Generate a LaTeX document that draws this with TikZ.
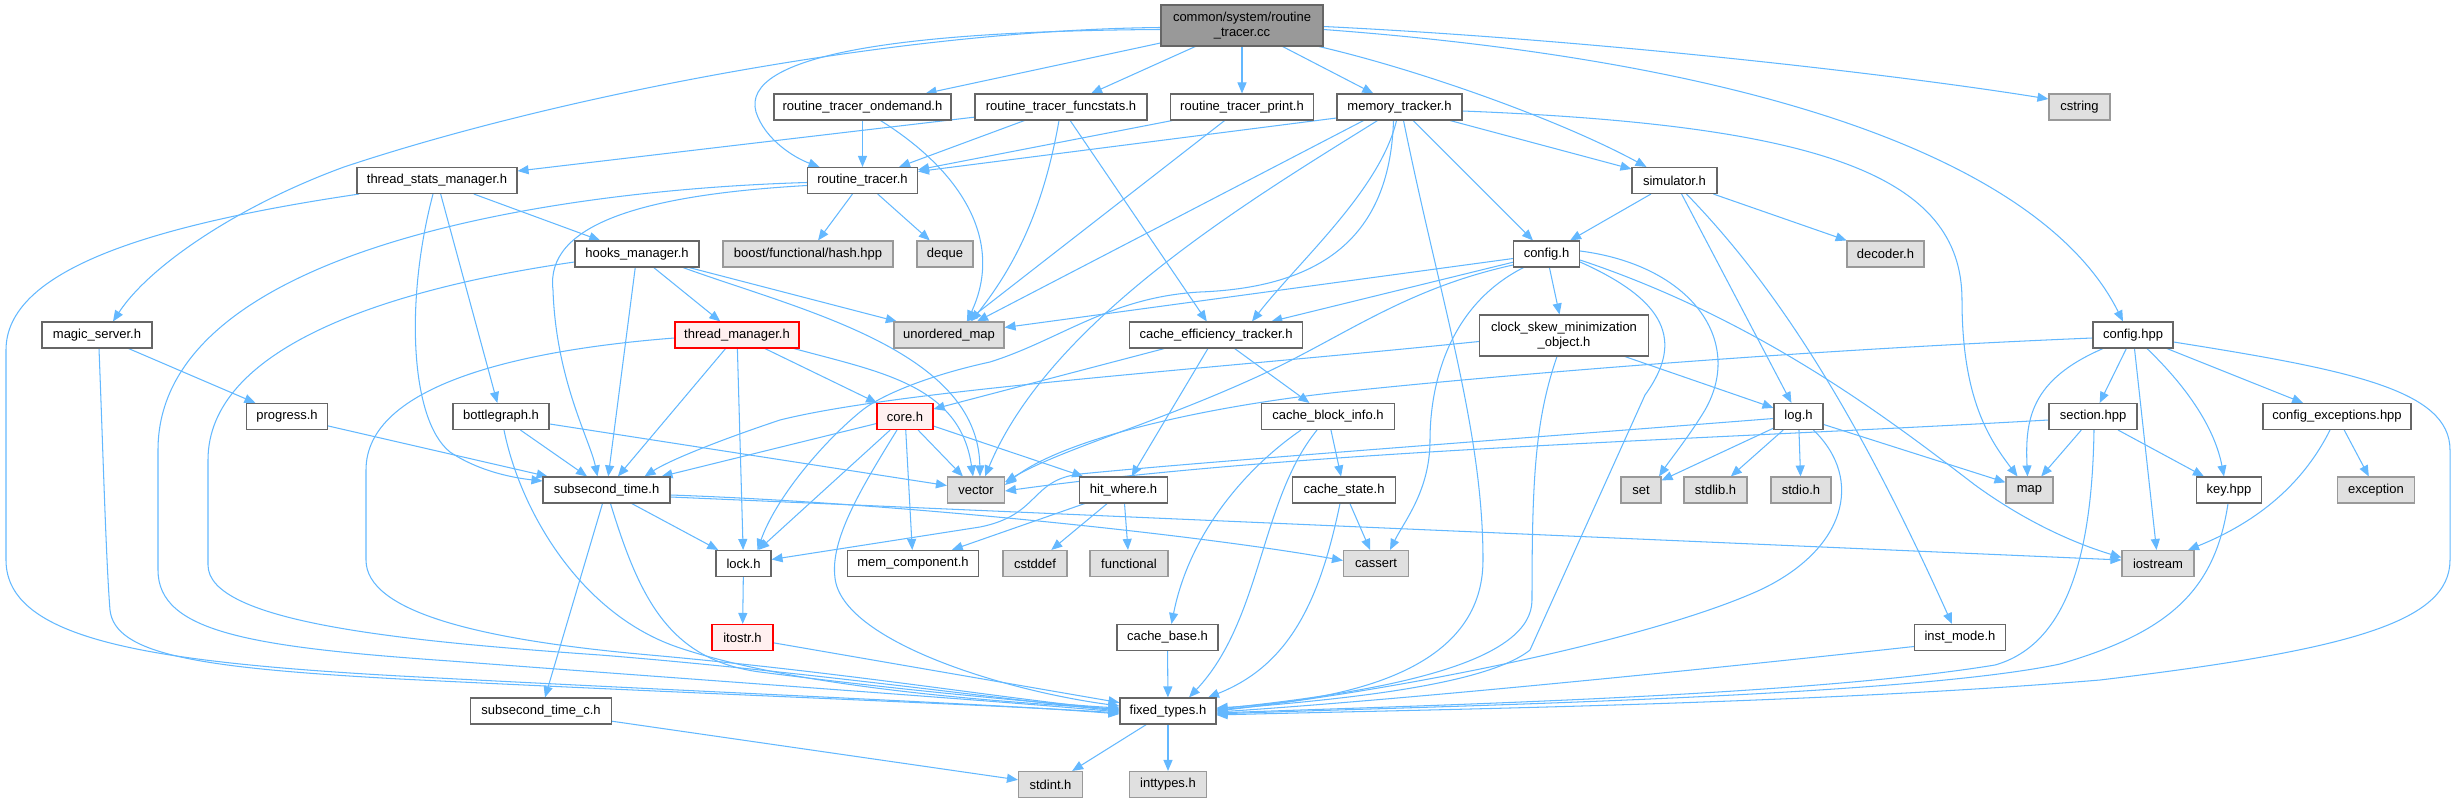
\documentclass[tikz,border=0pt]{standalone}
\usepackage{fontspec}
\setmainfont{Liberation Sans}
\usetikzlibrary{arrows.meta}
\definecolor{edgeblue}{HTML}{63B8FF}
\definecolor{boxgray}{HTML}{666666}
\definecolor{sysgray}{HTML}{999999}
\definecolor{sysfill}{HTML}{E0E0E0}
\definecolor{hotfill}{HTML}{FFF0F0}
\definecolor{rootfill}{HTML}{999999}
\newcommand{\nf}{\fontsize{13}{15}\selectfont}
\pgfdeclarelayer{bg}
\pgfsetlayers{bg,main}
\tikzset{
  box/.style={draw=boxgray, fill=white, line width=1.1pt, minimum height=26pt, inner sep=0pt, font=\nf, text=black},
  sys/.style={box, draw=sysgray, fill=sysfill},
  hot/.style={box, draw=red, fill=hotfill},
  rootbox/.style={box, fill=rootfill, draw=boxgray},
  dep/.style={draw=edgeblue, line width=1.05pt, -{Triangle[length=11pt,width=9pt]}}
}
\begin{document}
\begin{tikzpicture}[x=1pt,y=-1pt]
\useasboundingbox (0,0) rectangle (2458,803);
% row 0
\node[rootbox, minimum width=162pt, minimum height=41pt, align=center] (C) at (1242,25.5) {common/system/routine\\\_tracer.cc};
% row 1
\node[box, minimum width=177pt] (ond) at (862.5,107) {routine\_tracer\_ondemand.h};
\node[box, minimum width=172pt] (fst) at (1061,107) {routine\_tracer\_funcstats.h};
\node[box, minimum width=143pt] (prt) at (1242,107) {routine\_tracer\_print.h};
\node[box, minimum width=125pt] (mem) at (1399.5,107) {memory\_tracker.h};
\node[sys, minimum width=61pt] (cstr) at (2079.5,107) {cstring};
% row 2
\node[box, minimum width=160pt] (tsm) at (437,180.5) {thread\_stats\_manager.h};
\node[box, minimum width=110pt] (rt) at (862.5,180.5) {routine\_tracer.h};
\node[box, minimum width=85pt] (sim) at (1674.5,180.5) {simulator.h};
% row 3
\node[box, minimum width=124pt] (hook) at (637,254) {hooks\_manager.h};
\node[sys, minimum width=170pt] (boost) at (808,254) {boost/functional/hash.hpp};
\node[sys, minimum width=56pt] (deque) at (945,254) {deque};
\node[box, minimum width=66pt] (cfgh) at (1546.5,254) {config.h};
\node[sys, minimum width=77pt] (dec) at (1885.5,254) {decoder.h};
% row 4
\node[box, minimum width=110pt] (magic) at (97,335) {magic\_server.h};
\node[hot, minimum width=124pt] (tm) at (737,335) {thread\_manager.h};
\node[sys, minimum width=110pt] (umap) at (949,335) {unordered\_map};
\node[box, minimum width=173pt] (cet) at (1216,335) {cache\_efficiency\_tracker.h};
\node[box, minimum width=169pt, minimum height=41pt, align=center] (clk) at (1564,335.5) {clock\_skew\_minimization\\\_object.h};
\node[box, minimum width=80pt] (cfgp) at (2133,335) {config.hpp};
% row 5
\node[box, minimum width=81pt] (prog) at (287,416.5) {progress.h};
\node[box, minimum width=96pt] (bott) at (501,416.5) {bottlegraph.h};
\node[hot, minimum width=56pt] (core) at (905,416.5) {core.h};
\node[box, minimum width=133pt] (cbi) at (1328,416.5) {cache\_block\_info.h};
\node[box, minimum width=49pt] (log) at (1798.5,416.5) {log.h};
\node[box, minimum width=88pt] (sect) at (2093,416.5) {section.hpp};
\node[box, minimum width=148pt] (cexc) at (2337,416.5) {config\_exceptions.hpp};
% row 6
\node[box, minimum width=127pt] (sst) at (606.5,490) {subsecond\_time.h};
\node[sys, minimum width=57pt] (vec) at (976,490) {vector};
\node[box, minimum width=88pt] (hit) at (1123.5,490) {hit\_where.h};
\node[box, minimum width=103pt] (cst) at (1344,490) {cache\_state.h};
\node[sys, minimum width=40pt] (set) at (1641,490) {set};
\node[sys, minimum width=63pt] (stdl) at (1715.5,490) {stdlib.h};
\node[sys, minimum width=60pt] (stdo) at (1801,490) {stdio.h};
\node[sys, minimum width=47pt] (map) at (2029.5,490) {map};
\node[box, minimum width=65pt] (key) at (2229,490) {key.hpp};
\node[sys, minimum width=77pt] (exc) at (2376,490) {exception};
% row 7
\node[box, minimum width=55pt] (lock) at (743.5,563.5) {lock.h};
\node[box, minimum width=131pt] (memc) at (913,563.5) {mem\_component.h};
\node[sys, minimum width=64pt] (cdef) at (1035,563.5) {cstddef};
\node[sys, minimum width=78pt] (func) at (1129,563.5) {functional};
\node[sys, minimum width=65pt] (cass) at (1376,563.5) {cassert};
\node[sys, minimum width=72pt] (iost) at (2158,563.5) {iostream};
% row 8
\node[hot, minimum width=61pt] (itos) at (742.5,637.5) {itostr.h};
\node[box, minimum width=101pt] (cbase) at (1167.5,637.5) {cache\_base.h};
\node[box, minimum width=91pt] (inst) at (1960,637.5) {inst\_mode.h};
% row 9
\node[box, minimum width=141pt] (sstc) at (541,711) {subsecond\_time\_c.h};
\node[box, minimum width=96pt] (fix) at (1168,711) {fixed\_types.h};
% row 10
\node[sys, minimum width=64pt] (sint) at (1050.5,784.5) {stdint.h};
\node[sys, minimum width=77pt] (itypes) at (1168,784.5) {inttypes.h};

\begin{pgfonlayer}{bg}
% root
\draw[dep] ([yshift=-2pt]C.west) .. controls (900,30) and (560,95) .. (344,167) .. controls (240,205) and (150,265) .. ([xshift=16pt]magic.north);
\draw[dep] ([yshift=-4pt]C.west) .. controls (900,31) and (740,55) .. (756,112) .. controls (765,140) and (795,158) .. ([xshift=-43pt]rt.north);
\draw[dep] (C) -- (ond);
\draw[dep] (C) -- (fst);
\draw[dep] (C) -- (prt);
\draw[dep] (C) -- (mem);
\draw[dep] ([xshift=77pt]C.south) .. controls (1420,70) and (1560,120) .. ([xshift=-28pt]sim.north);
\draw[dep] ([yshift=-1pt]C.east) .. controls (1600,40) and (1900,75) .. ([yshift=8pt]cstr.west);
\draw[dep] ([yshift=-4pt]C.east) .. controls (1800,65) and (2050,175) .. ([xshift=-10pt]cfgp.north);
% row 1
\draw[dep] (ond) -- (rt);
\draw[dep] ([xshift=18pt]ond.south) .. controls (960,170) and (1005,240) .. ([xshift=18pt]umap.north);
\draw[dep] (fst) -- (rt);
\draw[dep] ([xshift=-2pt]fst.south) .. controls (1045,200) and (1020,260) .. ([xshift=22pt]umap.north);
\draw[dep] (fst) -- (cet);
\draw[dep] (fst) -- (tsm);
\draw[dep] (prt) -- (rt);
\draw[dep] (prt) -- (umap);
\draw[dep] ([yshift=-11pt]mem.west) -- ([yshift=9pt]rt.east);
\draw[dep] ([xshift=-36pt]mem.south) -- ([xshift=28pt]umap.north);
\draw[dep] (mem) -- (sim);
\draw[dep] (mem) -- (cfgh);
\draw[dep] ([xshift=-22pt]mem.south) .. controls (1250,200) and (1050,320) .. ([xshift=9pt]vec.north);
\draw[dep] ([xshift=-6pt]mem.south) .. controls (1390,230) and (1330,287) .. (1200,292) .. controls (1110,297) and (1060,340) .. (990,362) .. controls (930,375) and (880,395) .. (860,412) .. controls (820,445) and (775,500) .. ([xshift=14pt]lock.north);
\draw[dep] ([xshift=-3pt]mem.south) .. controls (1380,190) and (1300,260) .. ([xshift=36pt]cet.north);
\draw[dep] ([xshift=4pt]mem.south) .. controls (1440,300) and (1483,430) .. (1483,560) .. controls (1483,670) and (1350,700) .. ([yshift=3pt]fix.east);
\draw[dep] ([yshift=-4pt]mem.east) .. controls (1820,125) and (1962,175) .. (1962,300) .. controls (1962,400) and (1990,440) .. ([xshift=-12pt]map.north);
% thread_stats_manager
\draw[dep] (tsm) -- (hook);
\draw[dep] (tsm) -- (bott);
\draw[dep] ([xshift=-4pt]tsm.south) .. controls (405,300) and (410,420) .. (450,452) .. controls (480,472) and (515,478) .. ([yshift=9pt]sst.west);
\draw[dep] ([xshift=-78pt]tsm.south) .. controls (150,225) and (6,270) .. (6,350) -- (6,560) .. controls (6,640) and (150,662) .. (400,676) .. controls (700,692) and (1000,704) .. ([yshift=-3pt]fix.west);
% magic_server
\draw[dep] (magic) -- (prog);
\draw[dep] ([xshift=2pt]magic.south) .. controls (103,450) and (106,560) .. (110,610) .. controls (115,655) and (200,668) .. (400,679) .. controls (700,694) and (1000,705) .. ([yshift=-2pt]fix.west);
% routine_tracer.h
\draw[dep] (rt) -- (boost);
\draw[dep] (rt) -- (deque);
\draw[dep] ([yshift=-5pt]rt.west) .. controls (640,195) and (545,225) .. (553,290) .. controls (556,380) and (590,440) .. ([xshift=-9pt]sst.north);
\draw[dep] ([yshift=-2pt]rt.west) .. controls (550,190) and (158,250) .. (158,450) -- (158,570) .. controls (158,632) and (250,647) .. (450,661) .. controls (700,680) and (1000,701) .. ([yshift=-1pt]fix.west);
% hooks_manager
\draw[dep] (hook) -- (tm);
\draw[dep] (hook) -- (umap);
\draw[dep] (hook) -- (sst);
\draw[dep] ([xshift=46pt]hook.south) .. controls (800,310) and (978,350) .. ([xshift=4pt]vec.north);
\draw[dep] ([yshift=-8pt]hook.west) .. controls (380,290) and (208,350) .. (208,460) -- (208,565) .. controls (208,622) and (400,641) .. (600,655) .. controls (800,671) and (1000,699) .. (fix.west);
% thread_manager
\draw[dep] (tm) -- (core);
\draw[dep] (tm) -- (sst);
\draw[dep] (tm) -- (lock);
\draw[dep] ([xshift=57pt]tm.south) .. controls (880,372) and (960,385) .. ([xshift=-3pt]vec.north);
\draw[dep] ([yshift=-3pt]tm.west) .. controls (520,350) and (366,385) .. (366,470) -- (366,560) .. controls (366,612) and (480,640) .. (650,655) .. controls (850,673) and (1000,698) .. ([yshift=1pt]fix.west);
% bottlegraph, progress
\draw[dep] (prog) -- (sst);
\draw[dep] (bott) -- (sst);
\draw[dep] (bott) -- (vec);
\draw[dep] ([xshift=3pt]bott.south) .. controls (520,510) and (580,615) .. (680,648) .. controls (800,688) and (1000,702) .. ([yshift=2pt]fix.west);
% subsecond_time
\draw[dep] (sst) -- (lock);
\draw[dep] (sst) -- (sstc);
\draw[dep] ([yshift=-5pt]sst.east) .. controls (900,503) and (1200,535) .. ([yshift=3pt]cass.west);
\draw[dep] ([yshift=-7pt]sst.east) -- ([yshift=3.5pt]iost.west);
\draw[dep] ([xshift=4pt]sst.south) .. controls (640,600) and (670,660) .. (760,672) .. controls (900,690) and (1050,704) .. ([yshift=3pt]fix.west);
% core
\draw[dep] (core) -- (sst);
\draw[dep] (core) -- (lock);
\draw[dep] (core) -- (vec);
\draw[dep] (core) -- (memc);
\draw[dep] (core) -- (hit);
\draw[dep] ([xshift=-8pt]core.south) .. controls (860,490) and (830,540) .. (835,578) .. controls (842,640) and (1000,690) .. ([yshift=5pt]fix.west);
% cache efficiency etc.
\draw[dep] (cet) -- (core);
\draw[dep] (cet) -- (hit);
\draw[dep] (cet) -- (cbi);
\draw[dep] ([xshift=-27pt]cbi.south) .. controls (1250,465) and (1190,530) .. ([xshift=4pt]cbase.north);
\draw[dep] (cbi) -- (cst);
\draw[dep] ([xshift=-11pt]cbi.south) .. controls (1260,500) and (1262,620) .. ([xshift=21pt]fix.north);
\draw[dep] (cst) -- (cass);
\draw[dep] ([xshift=-4pt]cst.south) .. controls (1320,600) and (1290,665) .. ([xshift=40pt]fix.north);
% clock skew
\draw[dep] (clk) -- (log);
\draw[dep] ([yshift=-6pt]clk.west) .. controls (1200,370) and (900,390) .. (780,420) .. controls (720,440) and (670,460) .. ([xshift=38pt]sst.north);
\draw[dep] ([xshift=-7pt]clk.south) .. controls (1535,420) and (1532,480) .. (1532,600) .. controls (1532,660) and (1400,690) .. ([yshift=2pt]fix.east);
% config.h
\draw[dep] (cfgh) -- (clk);
\draw[dep] (cfgh) -- (umap);
\draw[dep] (cfgh) -- (cet);
\draw[dep] ([yshift=-11pt]cfgh.west) .. controls (1400,290) and (1340,340) .. (1250,380) .. controls (1150,425) and (1060,450) .. ([yshift=8pt]vec.east);
\draw[dep] ([xshift=-23pt]cfgh.south) .. controls (1440,310) and (1430,400) .. (1430,440) .. controls (1430,490) and (1405,520) .. ([xshift=14pt]cass.north);
\draw[dep] ([yshift=3pt]cfgh.east) .. controls (1690,265) and (1745,340) .. (1705,410) .. controls (1690,435) and (1670,460) .. ([xshift=18pt]set.north);
\draw[dep] ([yshift=-8pt]cfgh.east) .. controls (1665,300) and (1685,340) .. (1645,395) -- (1530,650) .. controls (1480,690) and (1300,702) .. ([yshift=1pt]fix.east);
\draw[dep] ([yshift=-6pt]cfgh.east) .. controls (1760,320) and (1890,420) .. (1975,485) .. controls (2030,525) and (2080,545) .. ([yshift=6pt]iost.west);
% simulator
\draw[dep] (sim) -- (cfgh);
\draw[dep] (sim) -- (dec);
\draw[dep] (sim) -- (log);
\draw[dep] ([xshift=12pt]sim.south) .. controls (1780,290) and (1860,420) .. ([xshift=-8pt]inst.north);
% log
\draw[dep] (log) -- (set);
\draw[dep] (log) -- (stdl);
\draw[dep] (log) -- (stdo);
\draw[dep] (log) -- (map);
\draw[dep] ([yshift=-2pt]log.west) .. controls (1500,440) and (1200,462) .. (1080,474) .. controls (1030,480) and (1040,515) .. (980,527) -- ([yshift=4pt]lock.east);
\draw[dep] ([xshift=15pt]log.south) .. controls (1865,480) and (1845,550) .. (1760,590) .. controls (1650,640) and (1400,690) .. (fix.east);
% inst_mode
\draw[dep] ([yshift=-9pt]inst.west) .. controls (1700,670) and (1400,700) .. ([yshift=-1pt]fix.east);
% config.hpp
\draw[dep] (cfgp) -- (sect);
\draw[dep] (cfgp) -- (cexc);
\draw[dep] (cfgp) -- (iost);
\draw[dep] ([xshift=14pt]cfgp.south) .. controls (2190,390) and (2215,430) .. ([xshift=-5pt]key.north);
\draw[dep] ([xshift=-30pt]cfgp.south) .. controls (2030,380) and (2025,420) .. ([xshift=-2pt]map.north);
\draw[dep] ([yshift=-3pt]cfgp.west) .. controls (1800,350) and (1500,375) .. (1340,392) .. controls (1200,407) and (1060,440) .. ([yshift=5pt]vec.east);
\draw[dep] ([yshift=-7pt]cfgp.east) .. controls (2350,370) and (2450,390) .. (2450,450) -- (2450,560) .. controls (2450,622) and (2350,650) .. (2100,680) .. controls (1800,705) and (1400,710) .. ([yshift=-4pt]fix.east);
% section.hpp
\draw[dep] (sect) -- (map);
\draw[dep] (sect) -- (key);
\draw[dep] ([yshift=-3.5pt]sect.west) .. controls (1700,440) and (1300,450) .. ([yshift=-1pt]vec.east);
\draw[dep] ([xshift=1pt]sect.south) .. controls (2092,560) and (2065,645) .. (1995,665) .. controls (1800,697) and (1400,706) .. ([yshift=-2pt]fix.east);
% config_exceptions, key
\draw[dep] (cexc) -- (exc);
\draw[dep] ([xshift=-7pt]cexc.south) .. controls (2300,490) and (2250,525) .. ([xshift=30pt]iost.north);
\draw[dep] ([xshift=-1pt]key.south) .. controls (2215,590) and (2170,632) .. (2060,664) .. controls (1900,698) and (1400,707) .. ([yshift=-3pt]fix.east);
% lower part
\draw[dep] (hit) -- (memc);
\draw[dep] (hit) -- (cdef);
\draw[dep] (hit) -- (func);
\draw[dep] (lock) -- (itos);
\draw[dep] (itos) -- (fix);
\draw[dep] (cbase) -- (fix);
\draw[dep] (sstc) -- (sint);
\draw[dep] (fix) -- (sint);
\draw[dep] (fix) -- (itypes);
\end{pgfonlayer}
\end{tikzpicture}
\end{document}
